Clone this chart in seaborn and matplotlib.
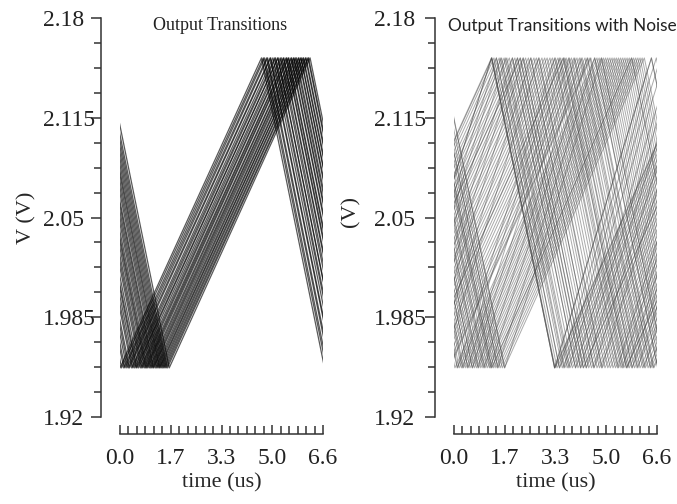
import matplotlib
matplotlib.use("Agg")
import matplotlib.pyplot as plt
from matplotlib.ticker import FixedLocator
import numpy as np
import pandas as pd
import seaborn as sns

HIGH = 2.154
LOW = 1.952

# clean output transitions: turning points of each trace (peak, trough, peak, trough)
clean_prev_peak = [-2.05, -2.00, -1.93, -1.89, -1.83, -1.78, -1.74, -1.67, -1.63, -1.58,
                   -1.53, -1.50, -1.45, -1.39, -1.35, -1.31, -1.26, -1.22, -1.19, -1.15,
                   -1.10, -1.06, -1.02, -0.98, -0.95, -0.90, -0.86, -0.82, -0.78, -0.75,
                   -0.71, -0.67, -0.63, -0.59, -0.55, -0.51, -0.45]
clean_trough = [0.00, 0.05, 0.12, 0.16, 0.22, 0.27, 0.31, 0.38, 0.42, 0.47,
                0.52, 0.55, 0.60, 0.66, 0.70, 0.74, 0.79, 0.83, 0.86, 0.90,
                0.95, 0.99, 1.03, 1.07, 1.10, 1.15, 1.19, 1.23, 1.27, 1.30,
                1.34, 1.38, 1.42, 1.46, 1.50, 1.54, 1.60]
clean_peak = [4.60, 4.66, 4.70, 4.77, 4.80, 4.88, 4.90, 4.97, 5.03, 5.06,
              5.13, 5.14, 5.21, 5.25, 5.31, 5.33, 5.40, 5.42, 5.47, 5.49,
              5.56, 5.58, 5.64, 5.66, 5.71, 5.74, 5.80, 5.82, 5.88, 5.89,
              5.95, 5.97, 6.03, 6.05, 6.11, 6.13, 6.18]
clean_next_trough = [6.65, 6.71, 6.75, 6.82, 6.85, 6.93, 6.95, 7.02, 7.08, 7.11,
                     7.18, 7.19, 7.26, 7.30, 7.36, 7.38, 7.45, 7.47, 7.52, 7.54,
                     7.61, 7.63, 7.69, 7.71, 7.76, 7.79, 7.85, 7.87, 7.93, 7.94,
                     8.00, 8.02, 8.08, 8.10, 8.16, 8.18, 8.23]

# noisy transitions, rising at t = 0: turning times (trough, peak, trough, peak)
noisy_rising_turns = [
    [-3.38, 1.22, 3.27, 7.87], [-3.30, 1.30, 3.35, 7.95], [-3.22, 1.38, 3.43, 8.03],
    [-3.13, 1.47, 3.52, 8.12], [-3.05, 1.55, 3.60, 8.20], [-2.97, 1.63, 3.68, 8.28],
    [-2.88, 1.72, 3.77, 8.37], [-2.80, 1.80, 3.85, 8.45], [-2.70, 1.90, 3.95, 8.55],
    [-2.62, 1.98, 4.03, 8.63], [-2.53, 2.07, 4.12, 8.72], [-2.44, 2.16, 4.21, 8.81],
    [-2.35, 2.25, 4.30, 8.90], [-2.27, 2.33, 4.38, 8.98], [-2.18, 2.42, 4.47, 9.07],
    [-2.10, 2.50, 4.55, 9.15], [-2.00, 2.60, 4.65, 9.25], [-1.92, 2.68, 4.73, 9.33],
    [-1.83, 2.77, 4.82, 9.42], [-1.74, 2.86, 4.91, 9.51], [-1.65, 2.95, 5.00, 9.60],
    [-1.57, 3.03, 5.08, 9.68], [-1.48, 3.12, 5.17, 9.77], [-1.40, 3.20, 5.25, 9.85],
    [-1.30, 3.30, 5.35, 9.95], [-1.22, 3.38, 5.43, 10.03], [-1.13, 3.47, 5.52, 10.12],
    [-1.04, 3.56, 5.61, 10.21], [-0.95, 3.65, 5.70, 10.30], [-0.87, 3.73, 5.78, 10.38],
    [-0.78, 3.82, 5.87, 10.47], [-0.70, 3.90, 5.95, 10.55], [-0.60, 4.00, 6.05, 10.65],
    [-0.52, 4.08, 6.13, 10.73], [-0.43, 4.17, 6.22, 10.82], [-0.34, 4.26, 6.31, 10.91],
    [-0.25, 4.35, 6.40, 11.00], [-0.15, 4.45, 6.50, 11.10],
    [-3.36, 1.24, 3.29, 7.89], [-2.45, 2.15, 4.20, 8.80], [-1.05, 3.55, 5.60, 10.20],
    [-0.18, 4.42, 6.47, 11.07],
]
# noisy transitions, falling at t = 0: turning times (peak, trough, peak, trough)
noisy_falling_turns = [
    [-2.02, 0.03, 4.58, 6.63], [-1.95, 0.10, 4.65, 6.70], [-1.88, 0.17, 4.72, 6.77],
    [-1.81, 0.24, 4.79, 6.84], [-1.74, 0.31, 4.86, 6.91], [-1.67, 0.38, 4.93, 6.98],
    [-1.60, 0.45, 5.00, 7.05], [-1.53, 0.52, 5.07, 7.12], [-1.46, 0.59, 5.14, 7.19],
    [-1.39, 0.66, 5.21, 7.26], [-1.32, 0.73, 5.28, 7.33], [-1.25, 0.80, 5.35, 7.40],
    [-1.18, 0.87, 5.42, 7.47], [-1.11, 0.94, 5.49, 7.54], [-1.04, 1.01, 5.56, 7.61],
    [-0.97, 1.08, 5.63, 7.68], [-0.90, 1.15, 5.70, 7.75], [-0.83, 1.22, 5.77, 7.82],
    [-0.76, 1.29, 5.84, 7.89], [-0.69, 1.36, 5.91, 7.96], [-0.62, 1.43, 5.98, 8.03],
    [-0.55, 1.50, 6.05, 8.10], [-0.48, 1.57, 6.12, 8.17], [-0.41, 1.64, 6.19, 8.24],
    [-0.82, 1.23, 5.78, 7.83],
]
# noisy traces with a faster rise, rising at t = 0
noisy_steep_rising_turns = [
    [-1.93, 1.22, 3.27, 6.42, 8.47], [-1.93, 1.22, 3.27, 6.42, 8.47],
    [-1.77, 1.38, 3.43, 6.58, 8.63], [-1.63, 1.52, 3.57, 6.72],
    [-1.47, 1.68, 3.73, 6.88], [-1.25, 1.90, 3.95, 7.10],
    [-1.09, 2.06, 4.11, 7.26], [-0.90, 2.25, 4.30, 7.45],
    [-0.65, 2.50, 4.55, 7.70], [-0.40, 2.75, 4.80, 7.95],
]
# noisy traces with a faster rise, falling at t = 0
noisy_steep_falling_turns = [
    [-1.93, 0.12, 3.27, 5.32, 8.47], [-1.77, 0.28, 3.43, 5.48, 8.63],
    [-1.60, 0.45, 3.60, 5.65, 8.80], [-1.45, 0.60, 3.75, 5.80, 8.95],
    [-1.27, 0.78, 3.93, 5.98, 9.13], [-1.07, 0.98, 4.13, 6.18, 9.33],
    [-0.87, 1.18, 4.33, 6.38, 9.53], [-0.63, 1.42, 4.57, 6.62],
    [-0.40, 1.65, 4.80, 6.85],
]

y_ticks = [1.92, 1.985, 2.05, 2.115, 2.18]
y_labels = ["1.92", "1.985", "2.05", "2.115", "2.18"]
x_ticks = [0.0, 1.65, 3.3, 4.95, 6.6]
x_labels = ["0.0", "1.7", "3.3", "5.0", "6.6"]


def to_frame(turn_lists, first_levels):
    rows = []
    for i, (turns, first) in enumerate(zip(turn_lists, first_levels)):
        levels = [HIGH, LOW] if first == "H" else [LOW, HIGH]
        for k, t in enumerate(turns):
            rows.append((i, t, levels[k % 2]))
    return pd.DataFrame(rows, columns=["trace", "time", "volt"])


clean_turns = [list(t) for t in zip(clean_prev_peak, clean_trough, clean_peak, clean_next_trough)]
clean_df = to_frame(clean_turns, ["H"] * len(clean_turns))

noisy_all = (noisy_rising_turns + noisy_steep_rising_turns
             + noisy_falling_turns + noisy_steep_falling_turns)
noisy_first = (["L"] * (len(noisy_rising_turns) + len(noisy_steep_rising_turns))
               + ["H"] * (len(noisy_falling_turns) + len(noisy_steep_falling_turns)))
noisy_df = to_frame(noisy_all, noisy_first)

sns.set_theme(style="ticks")
plt.rcParams["font.family"] = ["Liberation Serif", "DejaVu Serif"]
plt.rcParams["axes.edgecolor"] = "#333333"
plt.rcParams["text.color"] = "#222222"
plt.rcParams["xtick.color"] = "#333333"
plt.rcParams["ytick.color"] = "#333333"
plt.rcParams["xtick.labelcolor"] = "#222222"
plt.rcParams["ytick.labelcolor"] = "#222222"

fig = plt.figure(figsize=(6.77, 5.04), dpi=100)
ax1 = fig.add_axes([0.1773, 0.1726, 0.2998, 0.7917])
ax2 = fig.add_axes([0.6706, 0.1726, 0.2998, 0.7917])

sns.lineplot(data=clean_df, x="time", y="volt", units="trace", estimator=None,
             color="black", lw=0.9, alpha=0.65, legend=False, ax=ax1)
sns.lineplot(data=noisy_df, x="time", y="volt", units="trace", estimator=None,
             color="#444444", lw=0.7, alpha=0.45, legend=False, ax=ax2)

for ax, ypad in ((ax1, 34.3), (ax2, 36.4)):
    ax.set_xlim(0, 6.6)
    ax.set_ylim(1.92, 2.18)
    sns.despine(ax=ax, offset={"left": 13.5, "bottom": 12.2})
    ax.spines["left"].set_linewidth(1.1)
    ax.spines["bottom"].set_linewidth(1.1)
    ax.yaxis.set_major_locator(FixedLocator(y_ticks))
    ax.set_yticklabels(y_labels, ha="left")
    ax.yaxis.set_minor_locator(FixedLocator(np.arange(1.92, 2.1801, 0.01625)))
    ax.xaxis.set_major_locator(FixedLocator(x_ticks))
    ax.set_xticklabels(x_labels)
    ax.xaxis.set_minor_locator(FixedLocator(np.arange(0, 6.601, 0.275)))
    ax.tick_params(axis="y", which="major", direction="out", length=7.5, width=1.1,
                   labelsize=17, pad=ypad)
    ax.tick_params(axis="y", which="minor", direction="out", length=5, width=1.1)
    ax.tick_params(axis="x", which="major", direction="in", length=6.5, width=1.1,
                   labelsize=17, pad=10)
    ax.tick_params(axis="x", which="minor", direction="in", length=5.5, width=1.1)
    ax.set_xlabel("time (us)", fontsize=16, labelpad=3)
    ax.grid(False)

ax1.set_ylabel("V (V)", fontsize=16)
ax1.yaxis.set_label_coords(-0.414, 0.5)
ax2.set_ylabel("(V)", fontsize=16)
ax2.yaxis.set_label_coords(-0.463, 0.514)

fig.text(220 / 677, 1 - 26 / 504, "Output Transitions", ha="center", va="center",
         fontsize=13)
fig.text(562 / 677, 1 - 26 / 504, "Output Transitions with Noise", ha="center",
         va="center", fontsize=12.4, family=["Lato", "DejaVu Sans"])

fig.savefig("out.png", dpi=100)
